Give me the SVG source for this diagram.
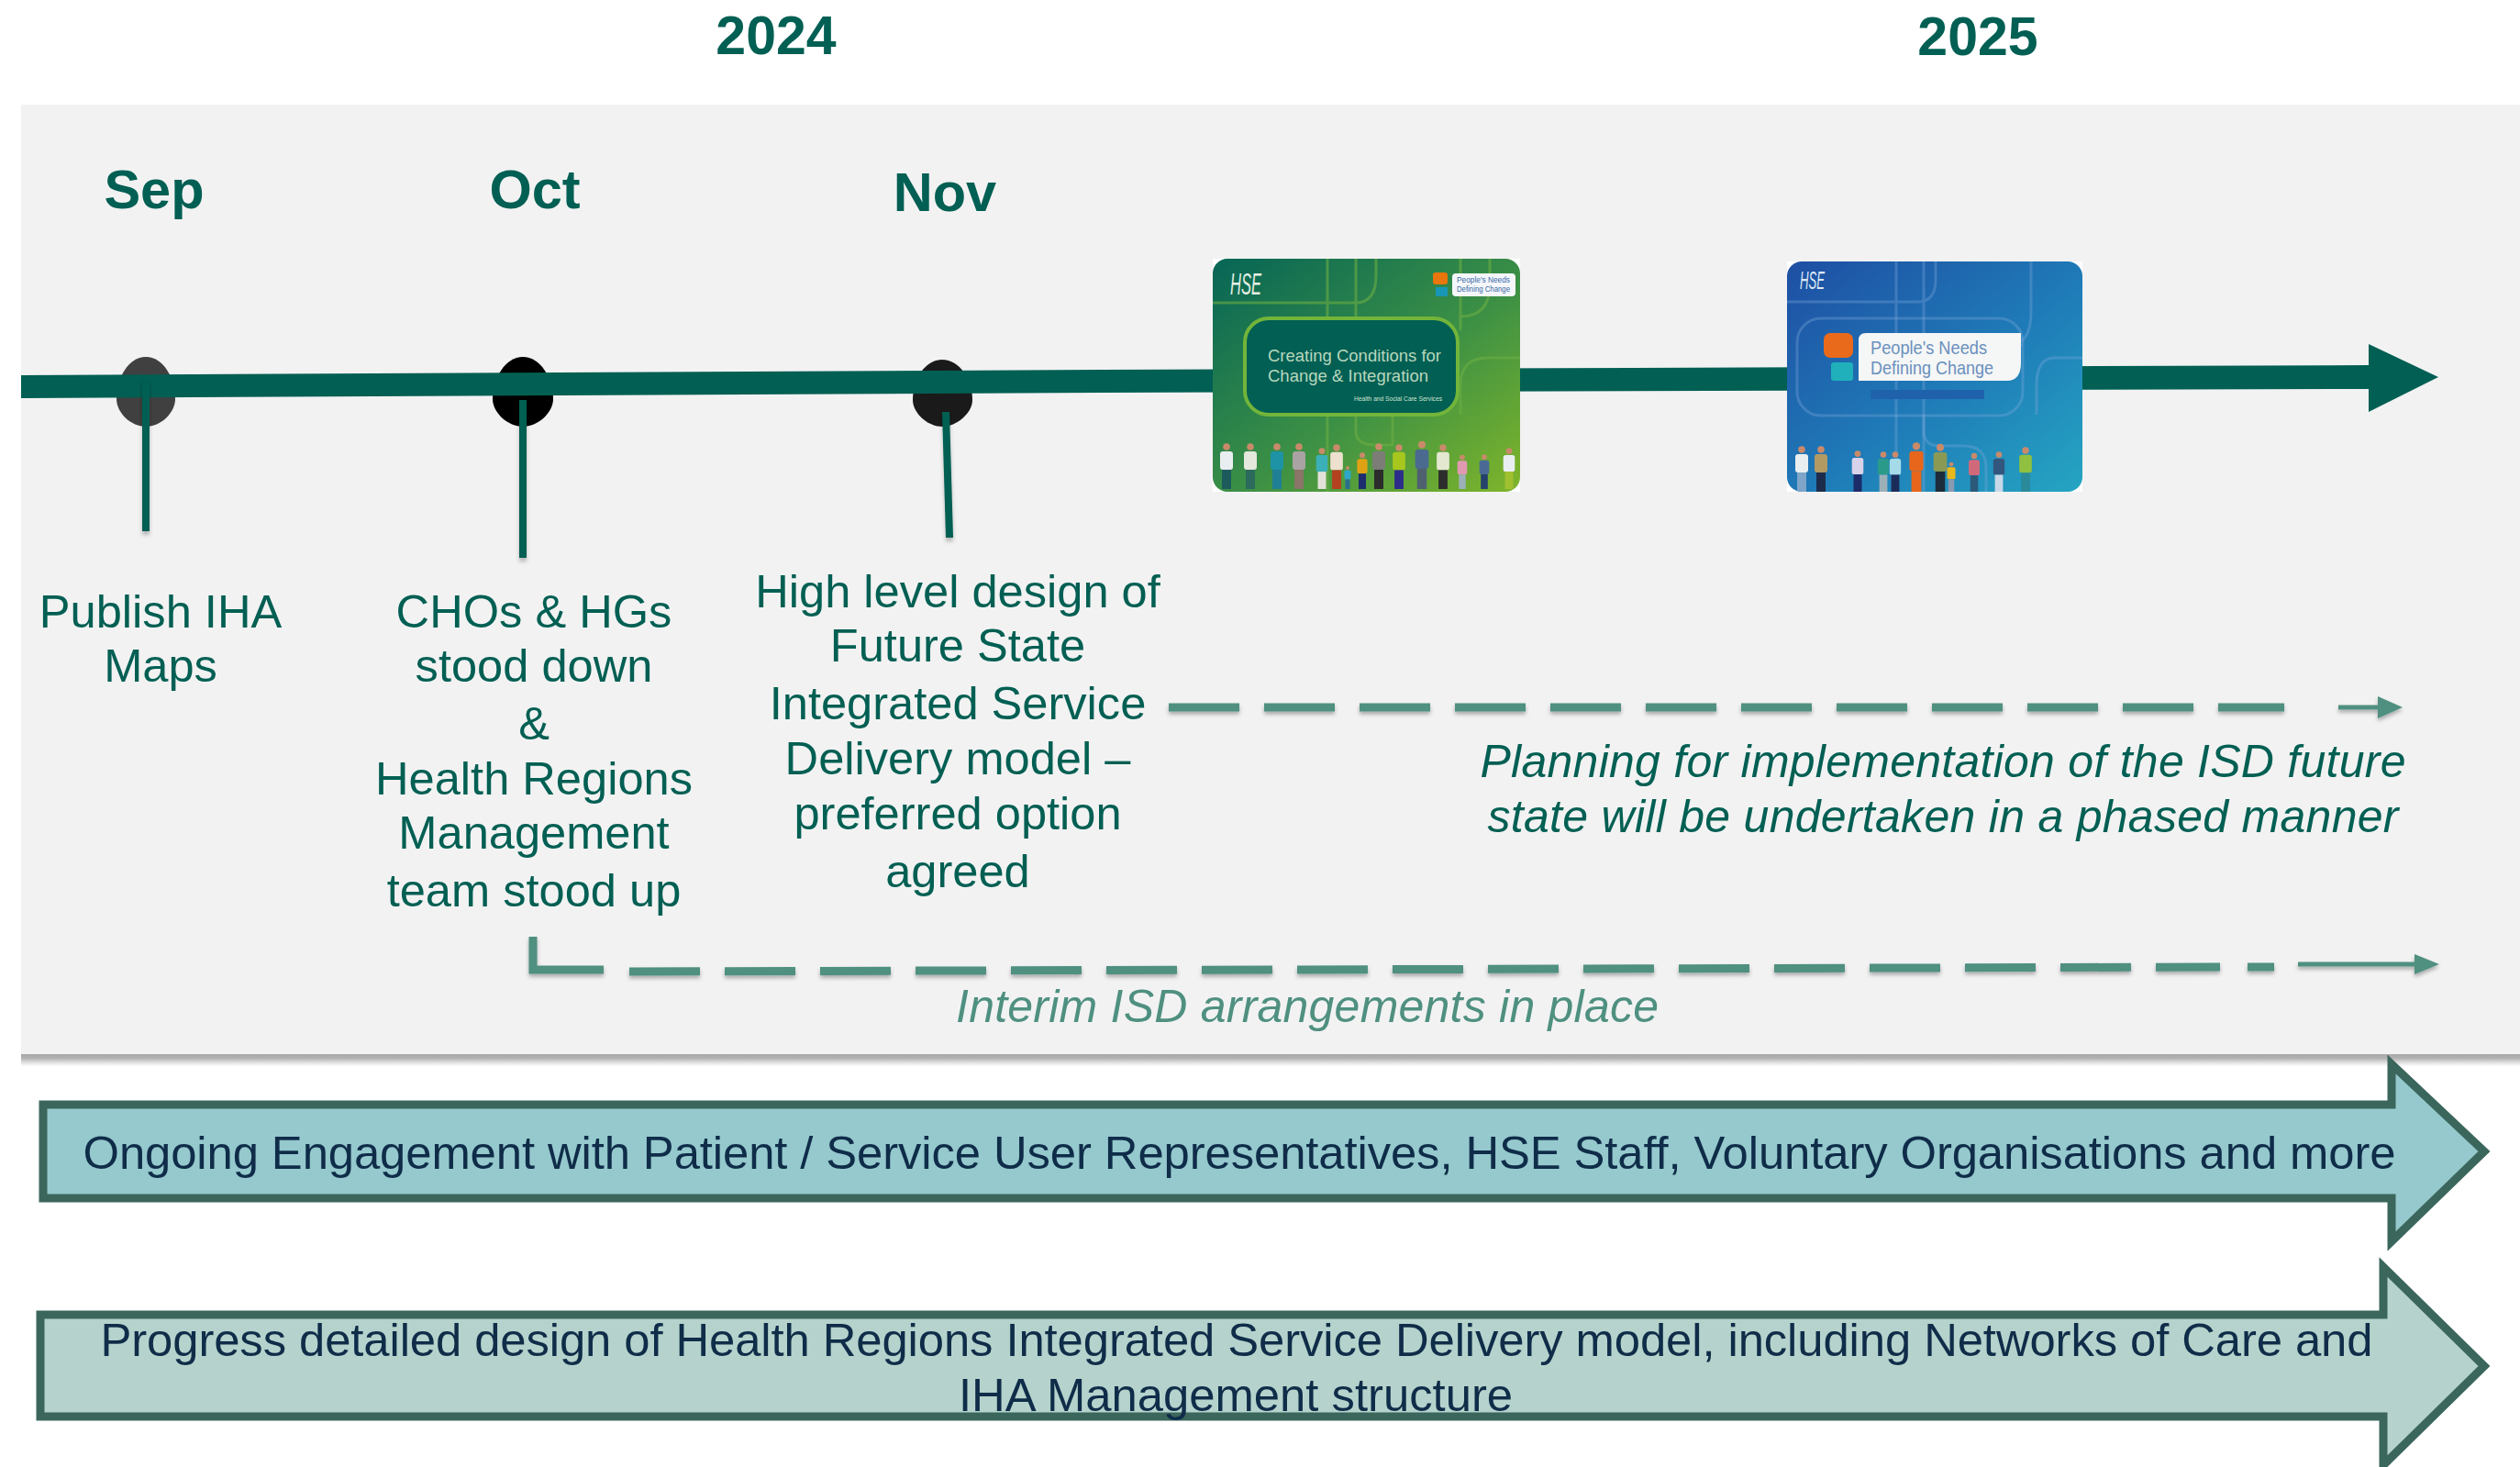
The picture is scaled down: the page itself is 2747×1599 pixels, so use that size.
<svg xmlns="http://www.w3.org/2000/svg" xmlns:xlink="http://www.w3.org/1999/xlink" width="2747" height="1599" viewBox="0 0 2747 1599">
<style>
text{font-family:"Liberation Sans",Arial,sans-serif}
.yr{font-size:59px;font-weight:700;fill:#025f53;text-anchor:middle}
.mo{font-size:59.5px;font-weight:700;fill:#025f53;text-anchor:middle}
.lb{font-size:50.6px;fill:#025f53;text-anchor:middle}
.it{font-size:50px;font-style:italic;fill:#025f53;text-anchor:middle}
.ar{font-size:50.8px;fill:#0f2c49;text-anchor:middle}
.band{stroke:#3b665c;stroke-width:9}
.stem{stroke:#025f53;stroke-width:8;fill:none}
.dash{stroke:#4f9080;stroke-width:9;fill:none;stroke-dasharray:77 27}
.sol{stroke:#4f9080;fill:none}
.deco1{fill:none;stroke:#6cae45;stroke-width:3;opacity:.6}
.deco2{fill:none;stroke:#7fa9dc;stroke-width:3;opacity:.35}
.head{fill:#c98a6a}
</style>
<defs>
<linearGradient id="gGreen" x1="0" y1="0" x2="1" y2="1"><stop offset="0" stop-color="#066556"/><stop offset=".55" stop-color="#3c9045"/><stop offset="1" stop-color="#7fb52a"/></linearGradient>
<linearGradient id="gBlue" x1="0" y1="0" x2="1" y2="1"><stop offset="0" stop-color="#1e4ea3"/><stop offset=".55" stop-color="#1f7cb8"/><stop offset="1" stop-color="#25a5c2"/></linearGradient>
<linearGradient id="gShadow" x1="0" y1="0" x2="0" y2="1"><stop offset="0" stop-color="#a8a8a8"/><stop offset=".3" stop-color="#b0b0b0"/><stop offset=".55" stop-color="#d2d2d2"/><stop offset=".85" stop-color="#f6f6f6"/><stop offset="1" stop-color="#fff"/></linearGradient>
<filter id="sh" x="-5%" y="-50%" width="110%" height="200%"><feDropShadow dx="0" dy="3" stdDeviation="2" flood-color="#000" flood-opacity=".3"/></filter>
<filter id="shStem" x="-300%" y="-5%" width="700%" height="115%"><feDropShadow dx="0" dy="4" stdDeviation="2" flood-color="#000" flood-opacity=".25"/></filter>
<clipPath id="c1"><rect x="1322" y="282" width="335" height="254" rx="16"/></clipPath>
<clipPath id="c2"><rect x="1948" y="285" width="322" height="251" rx="16"/></clipPath>
<g id="p"><circle class="head" cx="0" cy="-46" r="3.8"/><rect x="-7" y="-41" width="14" height="20" rx="3"/><rect x="-5" y="-21" width="10" height="21" fill="currentColor"/></g>
</defs>

<rect width="2747" height="1599" fill="#fff"/>
<g id="panel">
<rect x="23" y="114" width="2724" height="1035" fill="#f2f2f2"/>
<rect x="23" y="1149" width="2724" height="14" fill="url(#gShadow)"/>
</g>

<g id="years">
<text class="yr" x="846" y="59">2024</text>
<text class="yr" x="2156" y="60">2025</text>
</g>

<g id="markers">
<path d="M159 389C178 389 191 412 191 435C191 450 175 465 159 465C143 465 127 450 127 435C127 412 140 389 159 389Z" fill="#404040"/>
<path d="M570 389C589 389 603 412 603 435C603 450 586 465 570 465C554 465 537 450 537 435C537 412 551 389 570 389Z" fill="#000"/>
<path d="M1027 392C1046 392 1060 414 1060 436C1060 450 1043 465 1027 465C1011 465 995 450 995 436C995 414 1008 392 1027 392Z" fill="#1a1a1a"/>
</g>

<g id="connectors">
<polygon id="timeline" fill="#025f53" points="23,409 1200,403 2582,398 2582,375 2658,411 2582,449 2582,424 1200,428 23,434"/>
<g filter="url(#shStem)">
<line class="stem" x1="159" y1="412" x2="159" y2="579"/>
<line class="stem" x1="570" y1="436" x2="570" y2="608"/>
<line class="stem" x1="1031" y1="449" x2="1035" y2="586"/>
</g>
<g filter="url(#sh)">
<line class="dash" x1="1274" y1="771" x2="2490" y2="771"/>
<path class="sol" stroke-width="5" d="M2549 771H2595"/>
<polygon fill="#4f9080" points="2592,759 2619,771 2592,783"/>
<path class="sol" stroke-width="9" stroke-linejoin="miter" d="M581 1021V1057H658"/>
<line class="dash" x1="686" y1="1059" x2="2420" y2="1054"/>
<line class="sol" stroke-width="9" x1="2450" y1="1054" x2="2479" y2="1054"/>
<path class="sol" stroke-width="5" d="M2505 1051H2635"/>
<polygon fill="#4f9080" points="2632,1040 2659,1051 2632,1062"/>
</g>
</g>

<g id="doc-green">
<rect x="1322" y="282" width="335" height="254" fill="#fff"/>
<g clip-path="url(#c1)">
<rect x="1322" y="282" width="335" height="254" fill="url(#gGreen)"/>
<path class="deco1" d="M1322 330H1478Q1500 330 1500 300V282M1447 282V536M1478 282V360M1592 282V360M1478 452V470Q1478 485 1500 485H1518V452M1592 345Q1624 345 1624 310V282M1657 390H1622Q1592 390 1592 420V452"/>
<rect x="1357" y="347" width="232" height="105" rx="26" fill="#025f53" stroke="#72b53a" stroke-width="4"/>
<rect x="1562" y="297" width="16" height="13" rx="3" fill="#e8760c"/>
<rect x="1565" y="313" width="13" height="10" fill="#1797b5"/>
<rect x="1583" y="298" width="69" height="25" rx="4" fill="#f4f6fa"/>
<g id="people-green">
<use xlink:href="#p" transform="translate(1337 533)" fill="#e9eef0" color="#1d5a5c"/>
<use xlink:href="#p" transform="translate(1363 533)" fill="#e4e8dd" color="#2b6a5c"/>
<use xlink:href="#p" transform="translate(1392 533)" fill="#1e93a5" color="#1e7f95"/>
<use xlink:href="#p" transform="translate(1416 533)" fill="#a9a3a3" color="#8b7468"/>
<use xlink:href="#p" transform="translate(1441 533) scale(.9)" fill="#3bb0b8" color="#e4e2d8"/>
<use xlink:href="#p" transform="translate(1457 533) scale(.98)" fill="#ede0cf" color="#b3401f"/>
<use xlink:href="#p" transform="translate(1469 533) scale(.5)" fill="#2fa7c7" color="#2a6f8f"/>
<use xlink:href="#p" transform="translate(1485 533) scale(.8)" fill="#e0a215" color="#1c2c6e"/>
<use xlink:href="#p" transform="translate(1503 533)" fill="#7d7d78" color="#2c2c2c"/>
<use xlink:href="#p" transform="translate(1525 533) scale(.98)" fill="#a7c71e" color="#2c2c8a"/>
<use xlink:href="#p" transform="translate(1550 533) scale(1.05)" fill="#4a6a90" color="#4f6170"/>
<use xlink:href="#p" transform="translate(1573 533) scale(.98)" fill="#e4e8d0" color="#2c2c2c"/>
<use xlink:href="#p" transform="translate(1594 533) scale(.75)" fill="#e09ab0" color="#9cb0b8"/>
<use xlink:href="#p" transform="translate(1618 533) scale(.76)" fill="#4a6a95" color="#25406a"/>
<use xlink:href="#p" transform="translate(1645 533) scale(.9)" fill="#e9eef0" color="#a0c030"/>
</g>
</g>
<text x="1341" y="321" font-size="34" fill="#e4efe4" font-style="italic" textLength="34" lengthAdjust="spacingAndGlyphs">HSE</text>
<text x="1382" y="394" font-size="19" fill="#b7d7bd" textLength="189" lengthAdjust="spacingAndGlyphs">Creating Conditions for</text>
<text x="1382" y="416" font-size="19" fill="#b7d7bd" textLength="175" lengthAdjust="spacingAndGlyphs">Change &amp; Integration</text>
<text x="1476" y="437" font-size="8" fill="#cfe3d2" textLength="96" lengthAdjust="spacingAndGlyphs">Health and Social Care Services</text>
<text x="1588" y="308" font-size="9" fill="#3a6aa8" textLength="58" lengthAdjust="spacingAndGlyphs">People's Needs</text>
<text x="1588" y="318" font-size="9" fill="#3a6aa8" textLength="58" lengthAdjust="spacingAndGlyphs">Defining Change</text>
</g>

<g id="doc-blue">
<rect x="1948" y="285" width="322" height="251" fill="#fff"/>
<g clip-path="url(#c2)">
<rect x="1948" y="285" width="322" height="251" fill="url(#gBlue)"/>
<path class="deco2" d="M1948 329H2090Q2110 329 2110 305V285M2067 285V536M2097 285V536M2214 285V340Q2214 376 2190 376H2205M2270 390H2240Q2220 390 2220 420V452"/>
<rect x="1959" y="347" width="246" height="106" rx="26" fill="none" stroke="#7fa9dc" stroke-width="3" opacity=".35"/>
<path class="deco2" d="M2097 452V470Q2097 486 2115 486H2140Q2165 486 2165 510V536"/>
<rect x="1988" y="363" width="32" height="27" rx="7" fill="#ea6a1c"/>
<rect x="1996" y="395" width="24" height="20" rx="3" fill="#1fb0bb"/>
<path d="M2034 363H2203V395Q2203 415 2188 415H2026V371Q2026 363 2034 363Z" fill="#f5f6f6"/>
<rect x="2039" y="425" width="124" height="10" fill="#1f62ab"/>
<g id="people-blue">
<use xlink:href="#p" transform="translate(1964 536)" fill="#e9eef0" color="#7fa5c8"/>
<use xlink:href="#p" transform="translate(1985 536)" fill="#b39a63" color="#1c2c4a"/>
<use xlink:href="#p" transform="translate(2025 536) scale(.9)" fill="#d8d2ea" color="#1c2c6a"/>
<use xlink:href="#p" transform="translate(2053 536) scale(.88)" fill="#2a9a8a" color="#9cb0b8"/>
<use xlink:href="#p" transform="translate(2066 536) scale(.88)" fill="#a5dbe8" color="#1c2c5a"/>
<use xlink:href="#p" transform="translate(2089 536) scale(1.08)" fill="#e8661c" color="#e8661c"/>
<use xlink:href="#p" transform="translate(2115 536) scale(1.05)" fill="#8a9a55" color="#1c2c3a"/>
<use xlink:href="#p" transform="translate(2127 536) scale(.65)" fill="#e8b81c" color="#8a9ab0"/>
<use xlink:href="#p" transform="translate(2152 536) scale(.85)" fill="#d06a7a" color="#2c5a7a"/>
<use xlink:href="#p" transform="translate(2179 536) scale(.88)" fill="#33567e" color="#c8d8e8"/>
<use xlink:href="#p" transform="translate(2208 536) scale(.98)" fill="#8fc040" color="#2a8a9a"/>
</g>
</g>
<text x="1962" y="315" font-size="27" fill="#dce8f4" font-style="italic" textLength="27" lengthAdjust="spacingAndGlyphs">HSE</text>
<text x="2039" y="386" font-size="21" fill="#6a90bd" textLength="127" lengthAdjust="spacingAndGlyphs">People's Needs</text>
<text x="2039" y="408" font-size="21" fill="#6a90bd" textLength="134" lengthAdjust="spacingAndGlyphs">Defining Change</text>
</g>

<g id="m-sep">
<text class="mo" x="168" y="227">Sep</text>
<text class="lb" x="175" y="684">Publish IHA</text>
<text class="lb" x="175" y="743">Maps</text>
</g>
<g id="m-oct">
<text class="mo" x="583" y="227">Oct</text>
<text class="lb" x="582" y="684">CHOs &amp; HGs</text>
<text class="lb" x="582" y="743">stood down</text>
<text class="lb" x="582" y="806">&amp;</text>
<text class="lb" x="582" y="866">Health Regions</text>
<text class="lb" x="582" y="925">Management</text>
<text class="lb" x="582" y="988">team stood up</text>
</g>
<g id="m-nov">
<text class="mo" x="1030" y="230">Nov</text>
<text class="lb" x="1044" y="662">High level design of</text>
<text class="lb" x="1044" y="721">Future State</text>
<text class="lb" x="1044" y="784">Integrated Service</text>
<text class="lb" x="1044" y="844">Delivery model –</text>
<text class="lb" x="1044" y="904">preferred option</text>
<text class="lb" x="1044" y="967">agreed</text>
</g>
<g id="planning">
<text class="it" x="2118" y="847" textLength="1009">Planning for implementation of the ISD future</text>
<text class="it" x="2118" y="907" textLength="993">state will be undertaken in a phased manner</text>
</g>
<g id="interim">
<text class="it" x="1425" y="1114" style="fill:#4f9080" textLength="766">Interim ISD arrangements in place</text>
</g>

<g id="band-engagement">
<polygon class="band" fill="#95c9cd" points="47,1204 2607,1204 2607,1160 2708,1255 2607,1353 2607,1306 47,1306"/>
<text class="ar" x="1351" y="1274" textLength="2521">Ongoing Engagement with Patient / Service User Representatives, HSE Staff, Voluntary Organisations and more</text>
</g>
<g id="band-design">
<polygon class="band" fill="#b5d3cc" points="44,1433 2598,1433 2598,1381 2708,1489 2598,1597 2598,1544 44,1544"/>
<text class="ar" x="1348" y="1478" textLength="2477">Progress detailed design of Health Regions Integrated Service Delivery model, including Networks of Care and</text>
<text class="ar" x="1347" y="1538">IHA Management structure</text>
</g>
</svg>
